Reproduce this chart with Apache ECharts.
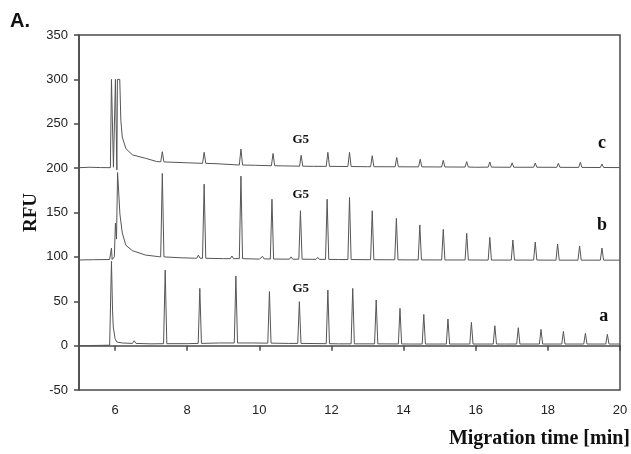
<!DOCTYPE html>
<html>
<head>
<meta charset="utf-8">
<script src="https://cdn.jsdelivr.net/npm/echarts@6/dist/echarts.min.js"></script>
<style>
  html, body { margin: 0; padding: 0; background: #fff; }
  #chart { width: 631px; height: 454px; }
</style>
</head>
<body>
<div id="chart"></div>
<script>
// x ticks (min)
var xTicks = [6, 8, 10, 12, 14, 16, 18, 20];

// trace a (bottom) - baseline / front profile, then peaks [time, base, top]
var profileA = [[5, 0], [5.5, 0.2], [5.85, 0.5], [5.87, 1], [5.9, 95], [5.93, 40], [5.95, 21], [6.0, 8],
  [6.05, 4], [6.2, 3], [6.48, 2.5], [6.53, 5.5], [6.58, 2.5], [7, 2], [8, 2.2], [8.9, 3], [9.8, 3],
  [10.8, 2.5], [12.2, 2], [14.2, 1.8], [16.8, 1.8], [20, 1.8]];
var peaksA = [[7.39, 2.2, 85], [8.35, 2.5, 64.5], [9.35, 3, 78.5], [10.28, 2.8, 61], [11.11, 2.5, 49.5],
  [11.9, 2.2, 62.6], [12.59, 2, 64.5], [13.24, 2, 51.4], [13.9, 1.9, 42], [14.56, 1.8, 35.2],
  [15.23, 1.8, 30], [15.88, 1.8, 26.2], [16.53, 1.8, 22.4], [17.18, 1.8, 20.2], [17.81, 1.8, 18.3],
  [18.43, 1.8, 16], [19.04, 1.8, 13.8], [19.65, 1.8, 12.7]];

// trace b (middle)
var profileB = [[5, 96.5], [5.4, 96.8], [5.85, 97], [5.88, 97], [5.9, 110], [5.92, 97], [5.98, 100],
  [6.01, 138], [6.04, 120], [6.07, 195], [6.1, 194], [6.135, 148], [6.2, 127], [6.3, 113], [6.48, 107],
  [6.85, 102], [7.2, 100.3], [7.8, 99], [8.2, 98.5], [9, 98], [10, 97.5], [12.2, 97], [14.2, 96.6],
  [16.7, 96.4], [20, 96.3]];
var peaksB = [[7.31, 100, 194], [8.31, 98.5, 102], [8.47, 98.4, 182], [9.24, 98, 101], [9.49, 98, 191],
  [10.09, 97.7, 100.5], [10.35, 97.6, 165], [10.88, 97.4, 100], [11.14, 97.4, 152], [11.62, 97.2, 99.5],
  [11.88, 97.2, 165], [12.5, 97, 167], [13.13, 96.8, 152], [13.8, 96.7, 143.4], [14.45, 96.6, 136],
  [15.1, 96.5, 131], [15.75, 96.5, 126.5], [16.39, 96.4, 122], [17.03, 96.4, 119], [17.65, 96.4, 116.7],
  [18.27, 96.3, 114.5], [18.88, 96.3, 112.3], [19.5, 96.3, 110]];

// trace c (top)
var profileC = [[5, 200.5], [5.3, 201], [5.6, 200.6], [5.87, 200.5], [5.9, 300], [5.935, 300],
  [5.955, 201], [5.99, 199], [6.01, 300], [6.035, 300], [6.05, 198], [6.065, 300], [6.13, 300],
  [6.16, 254], [6.2, 235], [6.3, 222], [6.48, 215], [6.85, 211], [7.15, 207.5], [8.0, 206],
  [8.8, 205], [9.9, 203.2], [10.7, 202.5], [11.5, 202], [13, 201.6], [16, 201], [20, 200.6]];
var peaksC = [[7.31, 207, 218.5], [8.47, 205.4, 217.8], [9.49, 203.5, 221.5], [10.38, 202.7, 216.5],
  [11.16, 202.2, 214.5], [11.9, 202, 217.8], [12.5, 201.8, 217.8], [13.13, 201.6, 214],
  [13.81, 201.5, 212], [14.46, 201.4, 210], [15.1, 201.3, 208.8], [15.75, 201.2, 207.3],
  [16.39, 201.1, 207], [17.01, 201, 206], [17.65, 201, 205.7], [18.29, 200.9, 205.4],
  [18.9, 200.8, 206.5], [19.5, 200.7, 204.6]];

// annotations [time, RFU, text]
var g5Labels = [[11.15, 232, 'G5'], [11.15, 170, 'G5'], [11.15, 64, 'G5']];
var traceLabels = [[19.5, 228, 'c'], [19.5, 135, 'b'], [19.55, 33, 'a']];

function buildTrace(profile, peaks) {
  var w = 0.045;
  var pts = profile.slice();
  peaks.forEach(function (p) {
    pts.push([p[0] - w, p[1]], [p[0], p[2]], [p[0] + w, p[1]]);
  });
  pts.sort(function (a, b) { return a[0] - b[0]; });
  return pts;
}

function markFor(list, size) {
  return {
    silent: true,
    symbol: 'circle',
    symbolSize: 0,
    label: {
      show: true, position: 'inside', fontFamily: 'Liberation Serif',
      fontWeight: 'bold', fontSize: size, color: '#111',
      formatter: function (p) { return p.name; }
    },
    data: list.map(function (d) { return { name: d[2], coord: [d[0], d[1]] }; })
  };
}

var lineStyle = { color: '#555', width: 1 };
var chart = echarts.init(document.getElementById('chart'));

var option = {
  animation: false,
  grid: {
    left: 79, right: 11, top: 35, bottom: 64,
    show: true, borderColor: '#4a4a4a', borderWidth: 1.5
  },
  xAxis: {
    type: 'value', min: 5, max: 20,
    axisLine: { lineStyle: { color: '#4a4a4a', width: 1.5 } },
    axisTick: { customValues: xTicks, length: 5, lineStyle: { color: '#4a4a4a', width: 1.5 } },
    axisLabel: { customValues: xTicks, fontFamily: 'Liberation Sans', fontSize: 13, color: '#222', margin: 14 },
    splitLine: { show: false }
  },
  yAxis: {
    type: 'value', min: -50, max: 350, interval: 50,
    name: 'RFU', nameLocation: 'middle', nameGap: 38, nameRotate: 90, nameMoveOverlap: false,
    nameTextStyle: { fontFamily: 'Liberation Serif', fontWeight: 'bold', fontSize: 19, color: '#111' },
    axisLine: { show: true, lineStyle: { color: '#4a4a4a', width: 1.5 } },
    axisTick: { show: true, length: 5, lineStyle: { color: '#4a4a4a', width: 1.5 } },
    axisLabel: { fontFamily: 'Liberation Sans', fontSize: 13, color: '#222', margin: 11 },
    splitLine: { show: false }
  },
  graphic: [
    { type: 'text', left: 10, top: 11, style: { text: 'A.', font: 'bold 20px "Liberation Sans"', fill: '#111' } },
    { type: 'text', right: 1, top: 429, style: { text: 'Migration time [min]', font: 'bold 20px "Liberation Serif"', fill: '#111' } }
  ],
  series: [
    { name: 'a', type: 'line', data: buildTrace(profileA, peaksA), showSymbol: false, silent: true, lineStyle: lineStyle },
    { name: 'b', type: 'line', data: buildTrace(profileB, peaksB), showSymbol: false, silent: true, lineStyle: lineStyle },
    { name: 'c', type: 'line', data: buildTrace(profileC, peaksC), showSymbol: false, silent: true, lineStyle: lineStyle },
    { name: 'g5', type: 'line', data: [], markPoint: markFor(g5Labels, 13) },
    { name: 'abc', type: 'line', data: [], markPoint: markFor(traceLabels, 18) }
  ]
};
chart.setOption(option);
</script>
</body>
</html>
